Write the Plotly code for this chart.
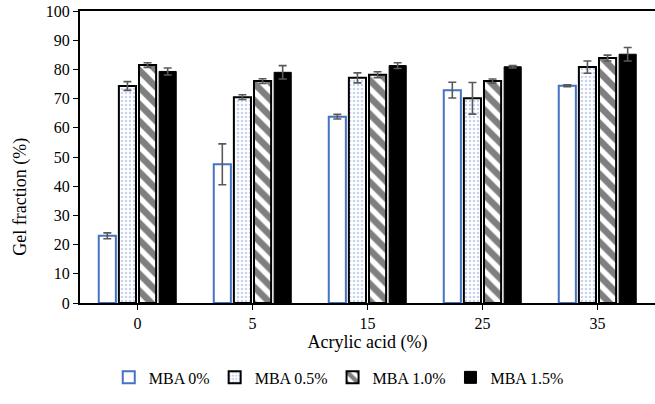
import plotly.graph_objects as go

categories = ["0", "5", "15", "25", "35"]
series_names = ["MBA 0%", "MBA 0.5%", "MBA 1.0%", "MBA 1.5%"]
mba0 = [23.0, 47.5, 63.8, 72.9, 74.4]
mba0_err = [1.0, 7.0, 0.8, 2.7, 0.3]
mba05 = [74.3, 70.5, 77.1, 70.1, 80.8]
mba05_err = [1.5, 0.8, 1.7, 5.4, 2.1]
mba10 = [81.5, 76.0, 78.2, 76.0, 83.9]
mba10_err = [0.8, 0.8, 1.0, 0.7, 1.0]
mba15 = [79.3, 79.0, 81.3, 80.9, 85.2]
mba15_err = [1.2, 2.3, 1.0, 0.4, 2.3]

font_family = "Liberation Serif, Times New Roman, serif"
err_style = dict(type="data", color="#595959", thickness=1.6, width=4)

fig = go.Figure()
fig.add_trace(go.Bar(
    name=series_names[0], x=categories, y=mba0,
    error_y=dict(array=mba0_err, **err_style),
    marker=dict(color="white", line=dict(color="#4472C4", width=2)),
))
fig.add_trace(go.Bar(
    name=series_names[1], x=categories, y=mba05,
    error_y=dict(array=mba05_err, **err_style),
    marker=dict(color="white", line=dict(color="black", width=2),
                pattern=dict(shape=".", fgcolor="#8FA8D8", bgcolor="white", size=4, solidity=0.35)),
))
fig.add_trace(go.Bar(
    name=series_names[2], x=categories, y=mba10,
    error_y=dict(array=mba10_err, **err_style),
    marker=dict(color="white", line=dict(color="black", width=2),
                pattern=dict(shape="\\", fgcolor="black", bgcolor="white", size=12, solidity=0.55)),
))
fig.add_trace(go.Bar(
    name=series_names[3], x=categories, y=mba15,
    error_y=dict(array=mba15_err, **err_style),
    marker=dict(color="black", line=dict(color="black", width=1)),
))

fig.update_layout(
    width=655, height=404,
    margin=dict(l=80, r=0, t=11, b=101),
    paper_bgcolor="white", plot_bgcolor="white",
    barmode="group", bargap=0.3, bargroupgap=0.15,
    font=dict(family=font_family, size=16, color="black"),
    showlegend=True,
    legend=dict(orientation="h", x=0.45, xanchor="center", y=-0.255, yanchor="middle",
                font=dict(family=font_family, size=16), itemwidth=30,
                traceorder="normal"),
    annotations=[dict(
        text="Gel fraction (%)", textangle=-90, xref="paper", yref="paper",
        x=-0.105, y=0.363, xanchor="center", yanchor="middle", showarrow=False,
        font=dict(family=font_family, size=18, color="black"),
    )],
)
fig.update_xaxes(
    type="category", showline=True, linecolor="black", linewidth=2, mirror=True,
    ticks="outside", ticklen=5, tickcolor="black", tickwidth=1,
    title=dict(text="Acrylic acid (%)", font=dict(size=18), standoff=4),
    tickfont=dict(size=16), showgrid=False,
)
fig.update_yaxes(
    range=[0, 100], dtick=10, showline=True, linecolor="black", linewidth=2,
    ticks="outside", ticklen=5, tickcolor="black", tickwidth=1,
    tickfont=dict(size=16), showgrid=False, zeroline=False,
)

fig.write_html("out.html")
